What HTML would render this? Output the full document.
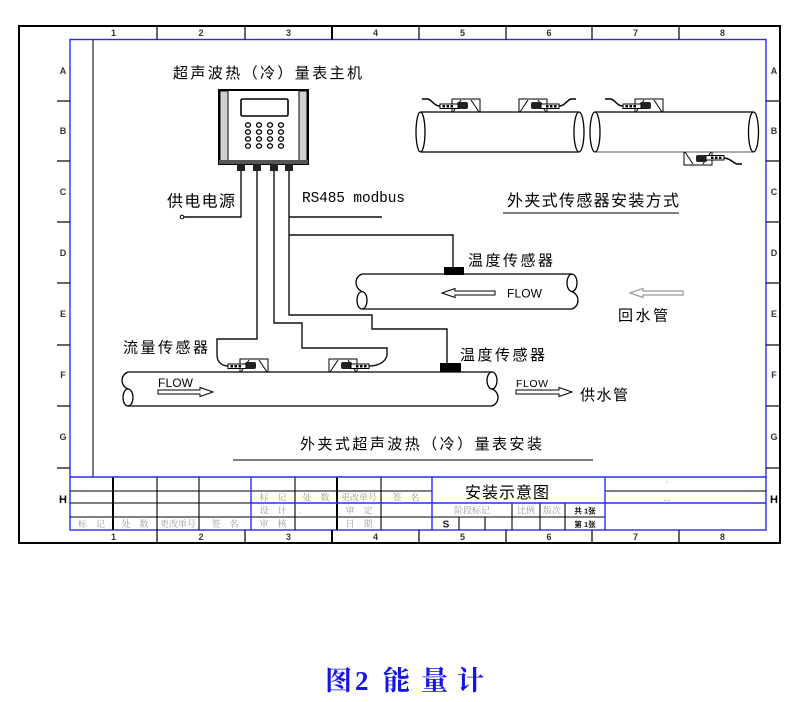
<!DOCTYPE html>
<html><head><meta charset="utf-8"><style>
html,body{margin:0;padding:0;background:#fff;}
svg{display:block;}
</style></head><body>
<svg xmlns="http://www.w3.org/2000/svg" xmlns:xlink="http://www.w3.org/1999/xlink" width="792" height="702" viewBox="0 0 792 702">
<defs>
<g id="sen">
 <path d="M0 0 V-13 H28 V0" fill="none" stroke="#000" stroke-width="1"/>
 <path d="M1 0 L9 -12 M27 0 L19 -12" stroke="#000" stroke-width="1" fill="none"/>
 <rect x="5" y="-10" width="11" height="7" rx="2" fill="#222"/>
 <rect x="-12" y="-8" width="18" height="4.5" fill="#fff" stroke="#000" stroke-width="1"/>
 <rect x="-9.5" y="-7" width="2.5" height="2.5" fill="#000"/>
 <rect x="-5.5" y="-7" width="2.5" height="2.5" fill="#000"/>
 <rect x="-1.5" y="-7" width="2.5" height="2.5" fill="#000"/>
</g>
</defs>
<rect width="792" height="702" fill="#fff"/>

<!-- outer frame -->
<rect x="19" y="26" width="761" height="517" fill="none" stroke="#000" stroke-width="2"/>
<rect x="70" y="39.5" width="696" height="490.5" fill="none" stroke="#2a2aff" stroke-width="1.4"/>
<line x1="93" y1="40" x2="93" y2="477" stroke="#333" stroke-width="1.3"/>

<!-- rulers -->
<g stroke="#000" stroke-width="1.2">
 <line x1="157" y1="26" x2="157" y2="39.5"/><line x1="245" y1="26" x2="245" y2="39.5"/>
 <line x1="332" y1="26" x2="332" y2="39.5" stroke-width="2"/><line x1="419" y1="26" x2="419" y2="39.5"/>
 <line x1="506" y1="26" x2="506" y2="39.5"/><line x1="592" y1="26" x2="592" y2="39.5"/>
 <line x1="679" y1="26" x2="679" y2="39.5"/>
 <line x1="157" y1="530" x2="157" y2="543"/><line x1="245" y1="530" x2="245" y2="543"/>
 <line x1="332" y1="530" x2="332" y2="543" stroke-width="2"/><line x1="419" y1="530" x2="419" y2="543"/>
 <line x1="506" y1="530" x2="506" y2="543"/><line x1="592" y1="530" x2="592" y2="543"/>
 <line x1="679" y1="530" x2="679" y2="543"/>
 <line x1="57" y1="101" x2="70" y2="101"/><line x1="57" y1="161" x2="70" y2="161"/>
 <line x1="57" y1="222" x2="70" y2="222"/><line x1="57" y1="283" x2="70" y2="283"/>
 <line x1="57" y1="345" x2="70" y2="345"/><line x1="57" y1="406" x2="70" y2="406"/>
 <line x1="57" y1="468" x2="70" y2="468"/>
 <line x1="766" y1="101" x2="780" y2="101"/><line x1="766" y1="161" x2="780" y2="161"/>
 <line x1="766" y1="222" x2="780" y2="222"/><line x1="766" y1="283" x2="780" y2="283"/>
 <line x1="766" y1="345" x2="780" y2="345"/><line x1="766" y1="406" x2="780" y2="406"/>
 <line x1="766" y1="468" x2="780" y2="468"/>
</g>
<g font-family="'Liberation Sans',sans-serif" font-size="9" font-weight="bold" fill="#333" text-anchor="middle">
 <text x="113.5" y="36">1</text><text x="201" y="36">2</text><text x="288.5" y="36">3</text><text x="375.5" y="36">4</text>
 <text x="462.5" y="36">5</text><text x="549" y="36">6</text><text x="635.5" y="36">7</text><text x="722.5" y="36">8</text>
 <text x="113.5" y="540">1</text><text x="201" y="540">2</text><text x="288.5" y="540">3</text><text x="375.5" y="540">4</text>
 <text x="462.5" y="540">5</text><text x="549" y="540">6</text><text x="635.5" y="540">7</text><text x="722.5" y="540">8</text>
 <text x="63" y="74">A</text><text x="63" y="134">B</text><text x="63" y="195">C</text><text x="63" y="256">D</text>
 <text x="63" y="317">E</text><text x="63" y="378">F</text><text x="63" y="440">G</text>
 <text x="774" y="74">A</text><text x="774" y="134">B</text><text x="774" y="195">C</text><text x="774" y="256">D</text>
 <text x="774" y="317">E</text><text x="774" y="378">F</text><text x="774" y="440">G</text>
</g>
<g font-family="'Liberation Sans',sans-serif" font-size="11" font-weight="bold" fill="#000" text-anchor="middle">
 <text x="63" y="503">H</text><text x="774" y="503">H</text>
</g>

<!-- title block -->
<g stroke="#000" stroke-width="1.1">
 <line x1="70" y1="491" x2="432" y2="491"/>
 <line x1="70" y1="503" x2="251" y2="503"/>
 <line x1="70" y1="517" x2="605" y2="517"/>
 <line x1="605" y1="491" x2="766" y2="491"/>
 <line x1="113" y1="477" x2="113" y2="530" stroke-width="2"/>
 <line x1="157" y1="477" x2="157" y2="530"/>
 <line x1="199" y1="477" x2="199" y2="530"/>
 <line x1="295" y1="477" x2="295" y2="530"/>
 <line x1="337" y1="477" x2="337" y2="530" stroke-width="2"/>
 <line x1="381" y1="477" x2="381" y2="530"/>
 <line x1="459" y1="517" x2="459" y2="530"/>
 <line x1="485" y1="517" x2="485" y2="530"/>
 <line x1="512" y1="503" x2="512" y2="530"/>
 <line x1="540" y1="503" x2="540" y2="530"/>
 <line x1="565" y1="503" x2="565" y2="530"/>
</g>
<g stroke="#2a2aff" stroke-width="1.4">
 <line x1="70" y1="477" x2="766" y2="477"/>
 <line x1="251" y1="503" x2="766" y2="503"/>
 <line x1="251" y1="477" x2="251" y2="530"/>
 <line x1="432" y1="477" x2="432" y2="530"/>
 <line x1="605" y1="477" x2="605" y2="530"/>
</g>
<g font-family="'Liberation Serif','Noto Serif CJK SC',serif" font-size="9" fill="#9a9a9a" text-anchor="middle">
 <text x="91.5" y="527">标　记</text><text x="135" y="527">处　数</text><text x="178" y="527">更改单号</text><text x="225" y="527">签　名</text>
 <text x="273" y="500.5">标　记</text><text x="316" y="500.5">处　数</text><text x="359" y="500.5">更改单号</text><text x="406" y="500.5">签　名</text>
 <text x="273" y="513.5">设　计</text><text x="300" y="513.5">.</text><text x="359" y="513.5">审　定</text>
 <text x="273" y="527">审　核</text><text x="359" y="527">日　期</text>
 <text x="472" y="513.5">阶段标记</text><text x="526" y="513.5">比例</text><text x="552" y="513.5">版次</text>
 <text x="667" y="485">·</text><text x="667" y="501">...</text>
</g>
<g font-family="'Liberation Sans','Noto Sans CJK SC',sans-serif" font-size="7.5" font-weight="bold" fill="#111" text-anchor="middle">
 <text x="585" y="513.5">共 1张</text><text x="585" y="527">第 1张</text>
</g>
<text x="446" y="527.5" font-family="'Liberation Sans',sans-serif" font-size="10" font-weight="bold" fill="#111" text-anchor="middle">S</text>
<text x="465" y="498" font-family="'Liberation Sans','Noto Sans CJK SC',sans-serif" font-size="16" fill="#000" textLength="84" lengthAdjust="spacing">安装示意图</text>

<!-- main unit -->
<rect x="219" y="90" width="89" height="74" fill="#fff" stroke="#000" stroke-width="2"/>
<rect x="220" y="91" width="8" height="72" fill="#d0d0d0" stroke="#000" stroke-width="1"/>
<rect x="299" y="91" width="8" height="72" fill="#d0d0d0" stroke="#000" stroke-width="1"/>
<rect x="219" y="160" width="89" height="4" fill="#555"/>
<rect x="241" y="99" width="47" height="17" rx="1.5" fill="#fff" stroke="#000" stroke-width="1.6"/>
<g fill="none" stroke="#000" stroke-width="1.3">
 <ellipse cx="248" cy="125" rx="2.5" ry="2.2"/><ellipse cx="259" cy="125" rx="2.5" ry="2.2"/><ellipse cx="270" cy="125" rx="2.5" ry="2.2"/><ellipse cx="281" cy="125" rx="2.5" ry="2.2"/>
 <ellipse cx="248" cy="132" rx="2.5" ry="2.2"/><ellipse cx="259" cy="132" rx="2.5" ry="2.2"/><ellipse cx="270" cy="132" rx="2.5" ry="2.2"/><ellipse cx="281" cy="132" rx="2.5" ry="2.2"/>
 <ellipse cx="248" cy="139" rx="2.5" ry="2.2"/><ellipse cx="259" cy="139" rx="2.5" ry="2.2"/><ellipse cx="270" cy="139" rx="2.5" ry="2.2"/><ellipse cx="281" cy="139" rx="2.5" ry="2.2"/>
 <ellipse cx="248" cy="146" rx="2.5" ry="2.2"/><ellipse cx="259" cy="146" rx="2.5" ry="2.2"/><ellipse cx="270" cy="146" rx="2.5" ry="2.2"/><ellipse cx="281" cy="146" rx="2.5" ry="2.2"/>
</g>
<g fill="#222">
 <rect x="237" y="164" width="8" height="7"/><rect x="253" y="164" width="8" height="7"/>
 <rect x="270" y="164" width="8" height="7"/><rect x="285" y="164" width="8" height="7"/>
</g>

<!-- wires -->
<g fill="none" stroke="#111" stroke-width="1.4">
 <path d="M241 171 V217 H183"/>
 <path d="M257 171 V339 H217 V355 C217 362 222 366 228 366"/>
 <path d="M274 171 V323 H302 V348 H387 V355 C386 362 378 366 369 366"/>
 <path d="M289 171 V315 H372 V329 H447 V363"/>
 <path d="M289 217 H382"/>
 <path d="M289 235 H453 V267"/>
</g>
<circle cx="182" cy="217" r="1.8" fill="#fff" stroke="#000" stroke-width="1"/>

<!-- texts -->
<g font-family="'Liberation Sans','Noto Sans CJK SC',sans-serif" fill="#000">
 <text x="173" y="78" font-size="15" textLength="189" lengthAdjust="spacing">超声波热（冷）量表主机</text>
 <text x="167" y="206.5" font-size="16" textLength="68" lengthAdjust="spacing">供电电源</text>
 <text x="507" y="206" font-size="16" textLength="172" lengthAdjust="spacing">外夹式传感器安装方式</text>
 <text x="468" y="265.5" font-size="15" textLength="85" lengthAdjust="spacing">温度传感器</text>
 <text x="618" y="320.5" font-size="15" textLength="50" lengthAdjust="spacing">回水管</text>
 <text x="123" y="352.5" font-size="15" textLength="85" lengthAdjust="spacing">流量传感器</text>
 <text x="460" y="360" font-size="15" textLength="85" lengthAdjust="spacing">温度传感器</text>
 <text x="580" y="400" font-size="15" textLength="48" lengthAdjust="spacing">供水管</text>
 <text x="300" y="449" font-size="15" textLength="242" lengthAdjust="spacing">外夹式超声波热（冷）量表安装</text>
</g>
<text x="302" y="202" font-family="'Liberation Mono',monospace" font-size="14.5" fill="#000" textLength="103" lengthAdjust="spacing">RS485 modbus</text>
<g font-family="'Liberation Sans',sans-serif" fill="#000">
 <text x="507" y="297.5" font-size="12" textLength="35" lengthAdjust="spacing">FLOW</text>
 <text x="158" y="387" font-size="12" textLength="35" lengthAdjust="spacing">FLOW</text>
 <text x="516" y="387" font-size="10.5" textLength="32" lengthAdjust="spacing">FLOW</text>
</g>
<line x1="233" y1="460" x2="593" y2="460" stroke="#555" stroke-width="1.4"/>
<line x1="503" y1="213" x2="679" y2="213" stroke="#555" stroke-width="1.4"/>

<!-- top-right pipes -->
<g fill="none" stroke="#000" stroke-width="1.3">
 <line x1="420.5" y1="112" x2="579" y2="112"/>
 <line x1="420.5" y1="152" x2="579" y2="152"/>
 <ellipse cx="420.5" cy="132" rx="4.5" ry="20"/>
 <ellipse cx="579" cy="132" rx="5" ry="20"/>
 <line x1="595" y1="112" x2="753.5" y2="112"/>
 <line x1="595" y1="152" x2="753.5" y2="152" stroke="#777"/>
 <ellipse cx="595" cy="132" rx="5" ry="20"/>
 <ellipse cx="753.5" cy="132" rx="5" ry="20"/>
</g>
<use href="#sen" xlink:href="#sen" transform="translate(452,112)"/>
<use href="#sen" xlink:href="#sen" transform="translate(547,112) scale(-1,1)"/>
<use href="#sen" xlink:href="#sen" transform="translate(635,112)"/>
<use href="#sen" xlink:href="#sen" transform="translate(712,152) scale(-1,-1)"/>
<g fill="none" stroke="#000" stroke-width="1.5">
 <path d="M440 106 C434 106 432 100 428 99 L422 99"/>
 <path d="M559 106 C565 106 567 100 571 99 L576 99"/>
 <path d="M623 106 C617 106 615 100 611 99 L605 99"/>
 <path d="M724 158 C730 158 733 163 737 164 L742 164"/>
</g>

<!-- return pipe -->
<g fill="none" stroke="#000" stroke-width="1.3">
 <line x1="362" y1="274" x2="572" y2="274"/>
 <line x1="362" y1="309" x2="572" y2="309"/>
 <path d="M362 274 C354 277 354 288 362 291.5"/>
 <ellipse cx="362" cy="300.3" rx="5" ry="8.7"/>
 <ellipse cx="572" cy="282.8" rx="5" ry="8.7"/>
 <path d="M572 291.5 C580 295 580 306 572 309"/>
</g>
<rect x="444" y="267" width="20" height="8" fill="#000"/>
<polygon points="442,293 455,288.5 455,291 495,291 495,295 455,295 455,297.5" fill="#fff" stroke="#000" stroke-width="1"/>
<polygon points="630,293 643,288.5 643,291 683,291 683,295 643,295 643,297.5" fill="#fff" stroke="#999" stroke-width="1.2"/>

<!-- supply pipe -->
<g fill="none" stroke="#000" stroke-width="1.3">
 <line x1="128" y1="372" x2="492" y2="372"/>
 <line x1="128" y1="406" x2="492" y2="406"/>
 <path d="M128 372 C120 375 120 386 128 389"/>
 <ellipse cx="128" cy="397.5" rx="5" ry="8.5"/>
 <ellipse cx="492" cy="380.5" rx="5" ry="8.5"/>
 <path d="M492 389 C500 392 500 403 492 406"/>
</g>
<rect x="440" y="363" width="21" height="9" fill="#000"/>
<use href="#sen" xlink:href="#sen" transform="translate(240,372)"/>
<use href="#sen" xlink:href="#sen" transform="translate(357,372) scale(-1,1)"/>
<polygon points="213,392 200,387.5 200,390 158,390 158,394 200,394 200,396.5" fill="#fff" stroke="#000" stroke-width="1"/>
<polygon points="572,392 559,387.5 559,390 516,390 516,394 559,394 559,396.5" fill="#fff" stroke="#000" stroke-width="1"/>

<!-- caption -->
<g font-family="'Noto Serif CJK SC','Liberation Serif',serif" font-size="27" font-weight="bold" fill="#1414e6">
 <text x="325" y="690">图</text>
 <text x="355" y="690" font-family="'Liberation Serif',serif">2</text>
 <text x="383" y="690">能</text>
 <text x="421" y="690">量</text>
 <text x="457" y="690">计</text>
</g>
</svg>
</body></html>
